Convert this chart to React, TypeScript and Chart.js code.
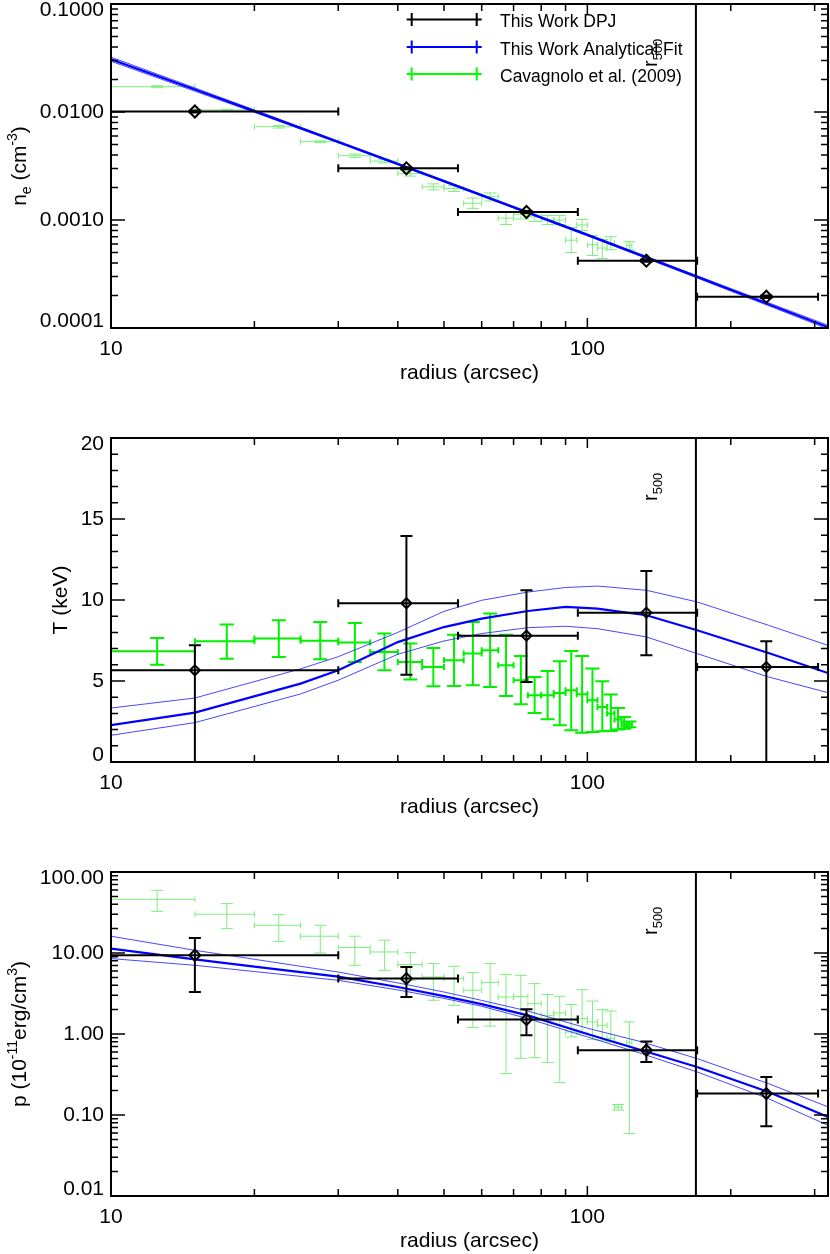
import React, { useEffect, useRef } from 'react';
import { Chart, registerables } from 'chart.js';
Chart.register(...registerables);

// ---------------- DATA ----------------
// This Work DPJ (deprojected bins)
const dpjR = [15.0, 41.7, 74.5, 133.0, 237.5];
const dpjRLo = [10.0, 30.0, 53.5, 95.5, 170.0];
const dpjRHi = [30.0, 53.5, 95.5, 170.0, 305.0];
const dpjNe = [0.0101, 0.00301, 0.001186, 0.00042, 0.000195];
const dpjNeLo = [0.0099, 0.00295, 0.00116, 0.00041, 0.00019];
const dpjNeHi = [0.0103, 0.00307, 0.00121, 0.00043, 0.0002];
const dpjT = [5.66, 9.8, 7.8, 9.22, 5.86];
const dpjTLo = [-0.5, 5.39, 4.94, 6.59, -0.5];
const dpjTHi = [7.2, 13.95, 10.6, 11.79, 7.45];
const dpjP = [9.38, 4.83, 1.51, 0.63, 0.184];
const dpjPLo = [3.31, 2.86, 0.964, 0.451, 0.0724];
const dpjPHi = [15.3, 6.72, 2.02, 0.81, 0.294];

// This Work Analytical Fit (centre, upper, lower)
const fitNeR = [10, 15, 20, 30, 40, 50, 70, 100, 150, 200, 250, 320];
const fitNe = [0.0308, 0.01614, 0.01019, 0.00528, 0.0033, 0.00229, 0.001315, 0.000728, 0.000368, 0.000226, 0.000155, 0.000102];
const fitNeHi = [0.0322, 0.0167, 0.01045, 0.00538, 0.00336, 0.00233, 0.00134, 0.000742, 0.000376, 0.000232, 0.00016, 0.000106];
const fitNeLo = [0.0295, 0.0156, 0.00993, 0.00518, 0.00324, 0.00225, 0.00129, 0.000714, 0.00036, 0.00022, 0.00015, 0.000098];

const fitTR = [10, 15, 25, 30, 40, 50, 60, 75, 90, 105, 133, 170, 240, 320];
const fitT = [2.27, 3.05, 4.84, 5.66, 7.4, 8.33, 8.85, 9.32, 9.57, 9.47, 9.06, 8.13, 6.73, 5.49];
const fitTHi = [3.33, 3.95, 5.75, 6.5, 8.0, 9.3, 9.98, 10.49, 10.77, 10.86, 10.6, 9.88, 8.44, 7.2];
const fitTLo = [1.65, 2.43, 4.2, 5.05, 6.65, 7.47, 7.93, 8.29, 8.38, 8.23, 7.72, 6.69, 5.25, 4.28];

const fitPR = [10, 15, 20, 30, 40, 50, 60, 75, 100, 130, 170, 240, 320];
const fitP = [11.3, 8.36, 6.79, 5.1, 3.8, 2.94, 2.34, 1.7, 1.0, 0.63, 0.392, 0.192, 0.0944];
const fitPHi = [16.1, 10.8, 8.36, 5.82, 4.27, 3.3, 2.6, 1.92, 1.18, 0.8, 0.497, 0.244, 0.126];
const fitPLo = [8.53, 7.05, 5.9, 4.6, 3.5, 2.75, 2.2, 1.55, 0.92, 0.573, 0.34, 0.159, 0.0745];

// Cavagnolo et al. (2009)
const cavR = [12.5, 17.5, 22.5, 27.5, 32.5, 37.5, 42.5, 47.5, 52.5, 57.5, 62.5, 67.5, 72.5, 77.5, 82.5, 87.5, 92.5, 97.5, 102.5, 107.5, 112.0, 116.0, 119.5, 122.5];
const cavRLo = [10, 15, 20, 25, 30, 35, 40, 45, 50, 55, 60, 65, 70, 75, 80, 85, 90, 95, 100, 105, 110, 114, 118, 121];
const cavRHi = [15, 20, 25, 30, 35, 40, 45, 50, 55, 60, 65, 70, 75, 80, 85, 90, 95, 100, 105, 110, 114, 118, 121, 124];
const cavNe = [0.01714, 0.01045, 0.00731, 0.00531, 0.00394, 0.00351, 0.0027, 0.00203, 0.00196, 0.00143, 0.00164, 0.00104, 0.00113, 0.00107, 0.001, 0.001, 0.00065, 0.0009, 0.00059, 0.00055, 0.00061, null, null, 0.00058];
const cavNeLo = [0.0168, 0.0103, 0.0071, 0.0052, 0.0038, 0.00338, 0.00255, 0.0019, 0.00184, 0.00128, 0.0015, 0.00091, 0.00102, 0.00097, 0.00091, 0.00091, 0.0005, 0.0008, 0.00047, 0.00044, 0.00053, null, null, 0.00053];
const cavNeHi = [0.0175, 0.0106, 0.0075, 0.0054, 0.00408, 0.00364, 0.00285, 0.00216, 0.00208, 0.0016, 0.00178, 0.00118, 0.00125, 0.00118, 0.0011, 0.0011, 0.00085, 0.00101, 0.00072, 0.00066, 0.0007, null, null, 0.00063];
const cavT = [6.83, 7.45, 7.62, 7.49, 7.37, 6.79, 6.17, 5.86, 6.28, 6.69, 6.9, 5.97, 5.04, 4.12, 4.12, 4.26, 4.43, 4.18, 3.81, 3.4, 2.99, 2.62, 2.31, 2.31];
const cavTLo = [6.01, 6.38, 6.48, 6.34, 6.17, 5.66, 5.1, 4.67, 4.69, 4.73, 4.63, 4.07, 3.56, 3.02, 2.64, 2.27, 1.96, 1.81, 1.85, 1.9, 1.91, 2.0, 2.06, 2.15];
const cavTHi = [7.65, 8.48, 8.75, 8.64, 8.58, 7.93, 7.31, 7.04, 7.86, 8.64, 9.16, 7.86, 6.54, 5.25, 5.62, 6.22, 6.85, 6.54, 5.77, 4.98, 4.16, 3.33, 2.78, 2.5];
const cavP = [46.0, 30.1, 22.0, 16.1, 11.7, 10.3, 7.2, 5.06, 4.83, 3.47, 4.32, 2.86, 2.9, 2.37, 1.7, 1.82, 1.06, 1.55, 1.41, 1.28, 0.88, 0.125, null, 0.78];
const cavPLo = [32.7, 20.0, 13.9, 10.0, 7.05, 6.11, 4.6, 2.61, 2.26, 1.2, 1.25, 0.324, 0.5, 0.51, 0.444, 0.251, 0.92, 1.03, 0.853, 0.836, 0.8, 0.115, null, 0.059];
const cavPHi = [59.4, 40.7, 29.8, 22.0, 16.1, 14.4, 10.1, 7.4, 6.86, 5.73, 7.4, 5.41, 5.3, 4.19, 3.07, 2.92, 2.31, 3.53, 2.55, 2.0, 1.92, 0.135, null, 1.41];

const r500 = 169;
const xMinorTicks = [20, 30, 40, 50, 60, 70, 80, 90, 200, 300];
const xMajorTicks = [10, 100];
const legendLabels = ['This Work DPJ', 'This Work Analytical Fit', 'Cavagnolo et al. (2009)'];

// ---------------- HELPERS ----------------
const FONT = '"Liberation Sans", Arial, Helvetica, sans-serif';
const FS = 21;
type Seg = { t: string; m?: 'sub' | 'sup' };
type Bars = {
  x: number[]; xLo: number[]; xHi: number[];
  y: (number | null)[]; yLo: (number | null)[]; yHi: (number | null)[];
  color: string; width: number; xCap: number; yCap: number;
};

function drawBars(chart: any, b: Bars) {
  const { ctx, chartArea: a, scales } = chart;
  const xs = scales.x, ys = scales.y;
  ctx.save();
  ctx.beginPath();
  ctx.rect(a.left, a.top, a.right - a.left, a.bottom - a.top);
  ctx.clip();
  ctx.strokeStyle = b.color;
  ctx.lineWidth = b.width;
  for (let i = 0; i < b.x.length; i++) {
    const yv = b.y[i];
    if (yv == null) continue;
    const px = xs.getPixelForValue(b.x[i]);
    const py = ys.getPixelForValue(yv);
    const x0 = xs.getPixelForValue(b.xLo[i]);
    const x1 = xs.getPixelForValue(b.xHi[i]);
    const y0 = ys.getPixelForValue(b.yLo[i] as number);
    const y1 = ys.getPixelForValue(b.yHi[i] as number);
    ctx.beginPath();
    ctx.moveTo(x0, py); ctx.lineTo(x1, py);
    ctx.moveTo(x0, py - b.xCap); ctx.lineTo(x0, py + b.xCap);
    ctx.moveTo(x1, py - b.xCap); ctx.lineTo(x1, py + b.xCap);
    ctx.moveTo(px, y0); ctx.lineTo(px, y1);
    ctx.moveTo(px - b.yCap, y0); ctx.lineTo(px + b.yCap, y0);
    ctx.moveTo(px - b.yCap, y1); ctx.lineTo(px + b.yCap, y1);
    ctx.stroke();
  }
  ctx.restore();
}

function segWidth(ctx: CanvasRenderingContext2D, segs: Seg[], size: number, small: number) {
  let w = 0;
  for (const s of segs) {
    ctx.font = `${s.m ? small : size}px ${FONT}`;
    w += ctx.measureText(s.t).width;
  }
  return w;
}

function drawRich(ctx: CanvasRenderingContext2D, segs: Seg[], x: number, y: number, size: number, rotate: boolean, align: 'center' | 'left') {
  const small = Math.round(size * 0.65);
  ctx.save();
  ctx.translate(x, y);
  if (rotate) ctx.rotate(-Math.PI / 2);
  ctx.fillStyle = '#000';
  ctx.textBaseline = 'alphabetic';
  ctx.textAlign = 'left';
  const total = segWidth(ctx, segs, size, small);
  let cx = align === 'center' ? -total / 2 : 0;
  const base = size * 0.36;
  for (const s of segs) {
    ctx.font = `${s.m ? small : size}px ${FONT}`;
    const dy = s.m === 'sub' ? size * 0.25 : s.m === 'sup' ? -size * 0.42 : 0;
    ctx.fillText(s.t, cx, base + dy);
    cx += ctx.measureText(s.t).width;
  }
  ctx.restore();
}

type AxisCfg = {
  yLog: boolean; yMin: number; yMax: number;
  yMajor: number[]; yMinor: number[]; yFmt: (v: number) => string;
  yTitle: Seg[]; yTitleX: number; legend: boolean;
};

function framePlugin(cfg: AxisCfg) {
  return {
    id: 'frame',
    afterDraw(chart: any) {
      const { ctx, chartArea: a, scales } = chart;
      const xs = scales.x, ys = scales.y;
      ctx.save();
      // r500 line
      const rx = xs.getPixelForValue(r500);
      ctx.strokeStyle = '#000';
      ctx.lineWidth = 2;
      ctx.beginPath();
      ctx.moveTo(rx, a.top); ctx.lineTo(rx, a.bottom);
      ctx.stroke();
      // frame
      ctx.lineWidth = 2;
      ctx.strokeRect(a.left, a.top, a.right - a.left, a.bottom - a.top);
      // x ticks
      ctx.lineWidth = 1.5;
      ctx.beginPath();
      const xt = (v: number, len: number) => {
        const p = xs.getPixelForValue(v);
        if (p <= a.left + 1 || p >= a.right - 1) return;
        ctx.moveTo(p, a.bottom); ctx.lineTo(p, a.bottom - len);
        ctx.moveTo(p, a.top); ctx.lineTo(p, a.top + len);
      };
      xMinorTicks.forEach((v) => xt(v, 7));
      xMajorTicks.forEach((v) => xt(v, 10));
      const yt = (v: number, len: number) => {
        const p = ys.getPixelForValue(v);
        if (p <= a.top + 1 || p >= a.bottom - 1) return;
        ctx.moveTo(a.left, p); ctx.lineTo(a.left + len, p);
        ctx.moveTo(a.right, p); ctx.lineTo(a.right - len, p);
      };
      cfg.yMinor.forEach((v) => yt(v, 7));
      cfg.yMajor.forEach((v) => yt(v, 14));
      ctx.stroke();
      // x labels
      ctx.fillStyle = '#000';
      ctx.font = `${FS}px ${FONT}`;
      ctx.textAlign = 'center';
      ctx.textBaseline = 'middle';
      xMajorTicks.forEach((v) => {
        ctx.fillText(String(v), xs.getPixelForValue(v), a.bottom + 21);
      });
      ctx.fillText('radius (arcsec)', (a.left + a.right) / 2, a.bottom + 45);
      // y labels
      ctx.textAlign = 'right';
      cfg.yMajor.forEach((v) => {
        let p = ys.getPixelForValue(v);
        if (Math.abs(v - cfg.yMax) < 1e-12) p += 6;
        if (Math.abs(v - cfg.yMin) < 1e-12) p -= 7;
        ctx.fillText(cfg.yFmt(v), a.left - 7, p);
      });
      // y title
      drawRich(ctx, cfg.yTitle, cfg.yTitleX, (a.top + a.bottom) / 2, FS, true, 'center');
      // r500 label
      drawRich(ctx, [{ t: 'r' }, { t: '500', m: 'sub' }], rx - 46, a.top + 63, 20, true, 'left');
      // legend
      if (cfg.legend) {
        const cols = ['#000000', '#0000ff', '#00ff00'];
        const ly = [a.top + 15.5, a.top + 43, a.top + 70];
        ctx.lineWidth = 2;
        legendLabels.forEach((lab, i) => {
          ctx.strokeStyle = cols[i];
          ctx.beginPath();
          ctx.moveTo(406.7, ly[i]); ctx.lineTo(481.7, ly[i]);
          ctx.moveTo(411.7, ly[i] - 6.5); ctx.lineTo(411.7, ly[i] + 6.5);
          ctx.moveTo(476.7, ly[i] - 6.5); ctx.lineTo(476.7, ly[i] + 6.5);
          ctx.stroke();
          ctx.fillStyle = '#000';
          ctx.font = `17.5px ${FONT}`;
          ctx.textAlign = 'left';
          ctx.textBaseline = 'middle';
          ctx.fillText(lab, 500, ly[i] + 3);
        });
      }
      ctx.restore();
    },
  };
}

function barsPlugin(green: Bars, black: Bars) {
  return {
    id: 'bars',
    beforeDatasetsDraw(chart: any) { drawBars(chart, green); },
    afterDatasetsDraw(chart: any) { drawBars(chart, black); },
  };
}

const pts = (xs: number[], ys: number[]) => xs.map((x, i) => ({ x, y: ys[i] }));

type PanelSpec = {
  top: number; height: number; padTop: number; padBottom: number;
  axis: AxisCfg;
  fitR: number[]; fit: number[]; fitHi: number[]; fitLo: number[];
  dpj: number[]; dpjLo: number[]; dpjHi: number[];
  cav: (number | null)[]; cavLo: (number | null)[]; cavHi: (number | null)[];
  greenColor: string; greenWidth: number; diamond: number;
};

function makeChart(canvas: HTMLCanvasElement, s: PanelSpec) {
  const green: Bars = {
    x: cavR, xLo: cavRLo, xHi: cavRHi, y: s.cav, yLo: s.cavLo, yHi: s.cavHi,
    color: s.greenColor, width: s.greenWidth, xCap: 3, yCap: s.greenWidth > 1 ? 7 : 6,
  };
  const black: Bars = {
    x: dpjR, xLo: dpjRLo, xHi: dpjRHi, y: s.dpj, yLo: s.dpjLo, yHi: s.dpjHi,
    color: '#000', width: 2, xCap: 4, yCap: 6,
  };
  const band = { borderColor: 'rgba(40,40,255,0.85)', borderWidth: 1, pointRadius: 0, tension: 0, fill: false, order: 3 };
  return new Chart(canvas, {
    type: 'line',
    data: {
      datasets: [
        {
          label: 'This Work DPJ', data: pts(dpjR, s.dpj), showLine: false,
          pointStyle: 'rectRot', pointRadius: s.diamond, pointBorderColor: '#000',
          pointBackgroundColor: 'rgba(0,0,0,0)', pointBorderWidth: 2, order: 0,
        } as any,
        { label: 'This Work Analytical Fit', data: pts(s.fitR, s.fit), borderColor: '#0000ff', borderWidth: 2.2, pointRadius: 0, tension: 0, fill: false, order: 1 },
        { label: 'fit upper', data: pts(s.fitR, s.fitHi), ...band },
        { label: 'fit lower', data: pts(s.fitR, s.fitLo), ...band },
      ],
    },
    options: {
      responsive: false,
      animation: false,
      devicePixelRatio: 1,
      layout: { autoPadding: false, padding: { left: 111, right: 2, top: s.padTop, bottom: s.padBottom } },
      plugins: { legend: { display: false }, tooltip: { enabled: false } },
      events: [],
      scales: {
        x: { type: 'logarithmic', min: 10, max: 320, display: false },
        y: { type: s.axis.yLog ? 'logarithmic' : 'linear', min: s.axis.yMin, max: s.axis.yMax, display: false },
      },
    } as any,
    plugins: [barsPlugin(green, black), framePlugin(s.axis)],
  });
}

const logMinor = (lo: number, hi: number) => {
  const out: number[] = [];
  for (let d = lo; d < hi; d++) for (let m = 2; m <= 9; m++) out.push(m * Math.pow(10, d));
  return out;
};

const panels: PanelSpec[] = [
  {
    top: 0, height: 400, padTop: 4, padBottom: 72,
    axis: {
      yLog: true, yMin: 0.0001, yMax: 0.1, yMajor: [0.0001, 0.001, 0.01, 0.1], yMinor: logMinor(-4, -1),
      yFmt: (v) => v.toFixed(4), yTitle: [{ t: 'n' }, { t: 'e', m: 'sub' }, { t: ' (cm' }, { t: '-3', m: 'sup' }, { t: ')' }],
      yTitleX: 18, legend: true,
    },
    fitR: fitNeR, fit: fitNe, fitHi: fitNeHi, fitLo: fitNeLo,
    dpj: dpjNe, dpjLo: dpjNeLo, dpjHi: dpjNeHi,
    cav: cavNe, cavLo: cavNeLo, cavHi: cavNeHi,
    greenColor: '#7eed7e', greenWidth: 1, diamond: 6,
  },
  {
    top: 400, height: 434, padTop: 38, padBottom: 72,
    axis: {
      yLog: false, yMin: 0, yMax: 20, yMajor: [0, 5, 10, 15, 20],
      yMinor: [1, 2, 3, 4, 6, 7, 8, 9, 11, 12, 13, 14, 16, 17, 18, 19],
      yFmt: (v) => String(v), yTitle: [{ t: 'T (keV)' }], yTitleX: 59, legend: false,
    },
    fitR: fitTR, fit: fitT, fitHi: fitTHi, fitLo: fitTLo,
    dpj: dpjT, dpjLo: dpjTLo, dpjHi: dpjTHi,
    cav: cavT, cavLo: cavTLo, cavHi: cavTHi,
    greenColor: '#00f000', greenWidth: 2, diamond: 5,
  },
  {
    top: 834, height: 420, padTop: 38, padBottom: 58,
    axis: {
      yLog: true, yMin: 0.01, yMax: 100, yMajor: [0.01, 0.1, 1, 10, 100], yMinor: logMinor(-2, 2),
      yFmt: (v) => v.toFixed(2),
      yTitle: [{ t: 'p (10' }, { t: '-11', m: 'sup' }, { t: 'erg/cm' }, { t: '3', m: 'sup' }, { t: ')' }],
      yTitleX: 18, legend: false,
    },
    fitR: fitPR, fit: fitP, fitHi: fitPHi, fitLo: fitPLo,
    dpj: dpjP, dpjLo: dpjPLo, dpjHi: dpjPHi,
    cav: cavP, cavLo: cavPLo, cavHi: cavPHi,
    greenColor: '#7eed7e', greenWidth: 1, diamond: 5.5,
  },
];

function Panel({ spec }: { spec: PanelSpec }) {
  const ref = useRef<HTMLCanvasElement>(null);
  useEffect(() => {
    if (!ref.current) return;
    const chart = makeChart(ref.current, spec);
    return () => chart.destroy();
  }, [spec]);
  return (
    <canvas
      ref={ref}
      width={830}
      height={spec.height}
      style={{ position: 'absolute', left: 0, top: spec.top, width: 830, height: spec.height, display: 'block' }}
    />
  );
}

export default function App() {
  return (
    <div style={{ position: 'absolute', left: 0, top: 0, width: 830, height: 1254, background: '#fff' }}>
      {panels.map((p, i) => (
        <Panel key={i} spec={p} />
      ))}
    </div>
  );
}
